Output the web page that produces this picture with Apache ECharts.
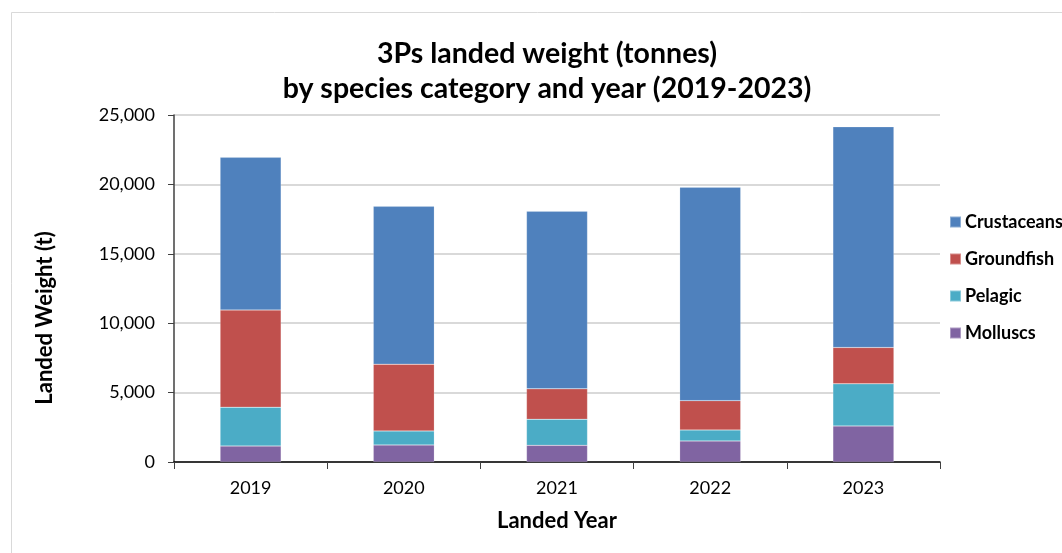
<!DOCTYPE html>
<html>
<head>
<meta charset="utf-8">
<script src="https://cdn.jsdelivr.net/npm/echarts@6/dist/echarts.min.js"></script>
<style>
html,body{margin:0;padding:0;background:#fff;}
#chart{width:1062px;height:553px;}
</style>
</head>
<body>
<div id="chart"></div>
<script>
const years = ['2019', '2020', '2021', '2022', '2023'];
const molluscs = [1150, 1230, 1200, 1520, 2600];
const pelagic = [2800, 1010, 1880, 790, 3030];
const groundfish = [7000, 4810, 2190, 2110, 2620];
const crustaceans = [11000, 11370, 12790, 15370, 15900];
const yTicks = [0, 5000, 10000, 15000, 20000, 25000];

const FONT = 'Lato, "Open Sans", sans-serif';
const chart = echarts.init(document.getElementById('chart'), null, {renderer: 'canvas'});

function mk(name, data, color) {
  return {
    name: name, type: 'bar', stack: 'total', data: data, barWidth: 61,
    itemStyle: {color: color, borderColor: 'rgba(255,255,255,0.35)', borderWidth: 0.5}
  };
}

chart.setOption({
  animation: false,
  backgroundColor: '#fff',
  graphic: [{
    type: 'rect', shape: {x: 11.5, y: 12.5, width: 1070, height: 560},
    style: {fill: 'none', stroke: '#d9d9d9', lineWidth: 1}, silent: true, z: -1
  }, {
    type: 'text', x: 45, y: 318, rotation: Math.PI / 2, silent: true,
    style: {text: 'Landed Weight (t)', fontFamily: FONT, fontWeight: 'bold', fontSize: 22,
      fill: '#000', textAlign: 'center', textVerticalAlign: 'middle'}
  }],
  title: {
    text: '3Ps landed weight (tonnes)\nby species category and year (2019-2023)',
    left: 542, top: 31, textAlign: 'center',
    textStyle: {fontFamily: FONT, fontWeight: 'bold', fontSize: 28.5, lineHeight: 35, color: '#000'}
  },
  legend: {
    data: ['Crustaceans', 'Groundfish', 'Pelagic', 'Molluscs'],
    orient: 'vertical', left: 949, top: 213, itemGap: 19, padding: 0,
    itemWidth: 11, itemHeight: 11, icon: 'rect',
    textStyle: {fontFamily: FONT, fontWeight: 'bold', fontSize: 18, color: '#000', padding: [0, 0, 0, -1]}
  },
  grid: {left: 174, right: 122, top: 115, bottom: 91, containLabel: false},
  xAxis: {
    type: 'category', data: years,
    name: 'Landed Year', nameLocation: 'middle', nameGap: 48,
    nameTextStyle: {fontFamily: FONT, fontWeight: 'bold', fontSize: 22, color: '#000'},
    axisLine: {lineStyle: {color: '#000', width: 1.5}},
    axisTick: {show: true, alignWithLabel: false, length: 7, lineStyle: {color: '#404040'}},
    axisLabel: {fontFamily: FONT, fontSize: 18, color: '#000', margin: 17}
  },
  yAxis: {
    type: 'value', min: 0, max: 25000, interval: 5000,
    axisLine: {show: true, lineStyle: {color: '#404040', width: 1.5}},
    axisTick: {show: true, length: 6, lineStyle: {color: '#404040'}},
    axisLabel: {fontFamily: FONT, fontSize: 18, color: '#000', margin: 19,
      formatter: v => yTicks.includes(v) ? v.toLocaleString('en-US') : ''},
    splitLine: {lineStyle: {color: '#d9d9d9', width: 2}}
  },
  series: [
    mk('Molluscs', molluscs, '#8064A2'),
    mk('Pelagic', pelagic, '#4BACC6'),
    mk('Groundfish', groundfish, '#C0504D'),
    mk('Crustaceans', crustaceans, '#4F81BD')
  ]
});
</script>
</body>
</html>
